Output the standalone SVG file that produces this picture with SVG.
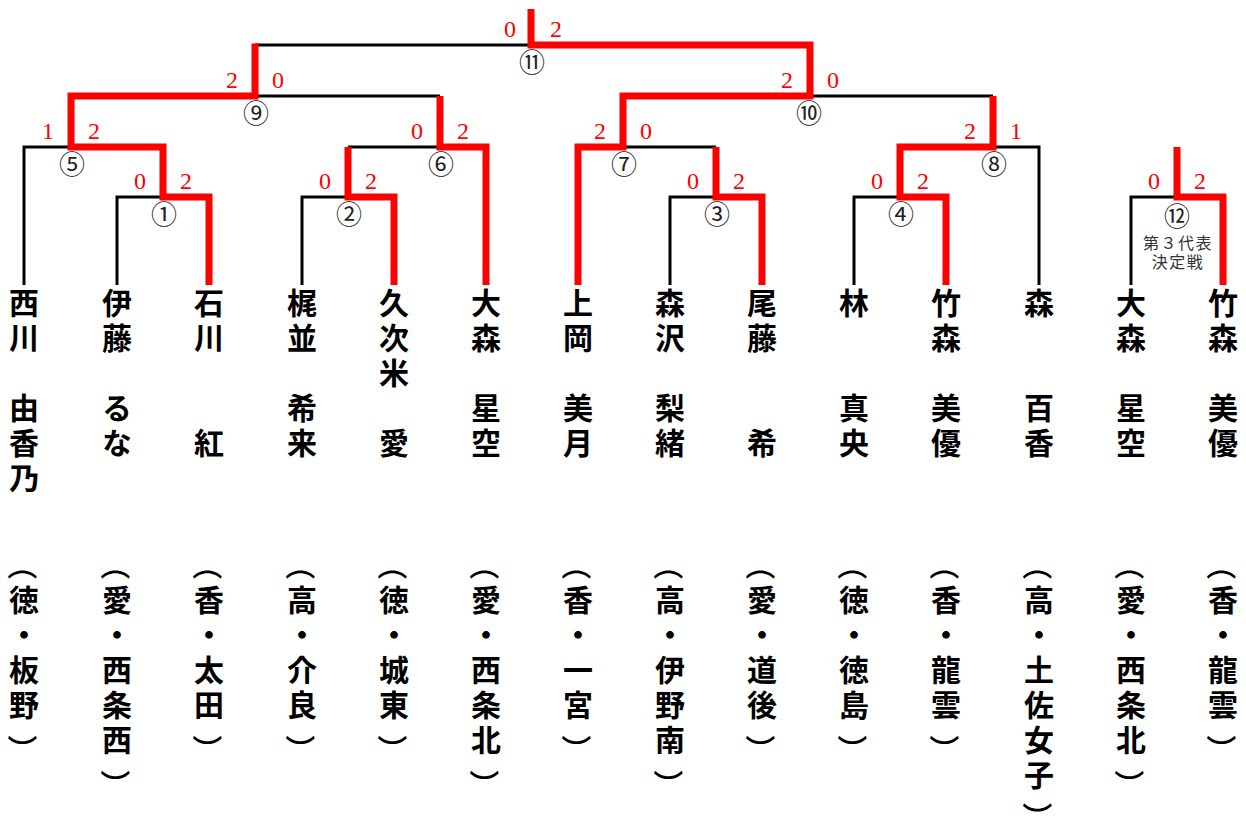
<svg xmlns="http://www.w3.org/2000/svg" width="1246" height="816" viewBox="0 0 1246 816">
<style>
.bk{fill:none;stroke:#000;stroke-width:3}
.rd{fill:none;stroke:#f00;stroke-width:7;stroke-linejoin:miter}
.sc{font-family:"Liberation Serif",serif;font-size:24px;fill:#f00;text-anchor:middle}
.mn{font-family:"Noto Sans CJK JP",sans-serif;font-size:26px;fill:#222;text-anchor:middle;dominant-baseline:central}
.lb{font-family:"Noto Sans CJK JP",sans-serif;font-size:16px;fill:#333;text-anchor:middle;letter-spacing:1.5px}
.nm{font-family:"Noto Sans CJK JP",sans-serif;font-weight:bold;font-size:30px;fill:#000;writing-mode:vertical-rl;letter-spacing:5px}
.pr{font-family:"Noto Sans CJK JP",sans-serif;font-weight:500;font-size:30px;fill:#000;text-anchor:middle;dominant-baseline:central}
</style>
<rect width="1246" height="816" fill="#fff"/>
<g id="connectors">
<path class="bk" d="M117,285V197H163"/>
<path class="bk" d="M302,285V197H348"/>
<path class="bk" d="M670,285V197H716"/>
<path class="bk" d="M854,285V197H900"/>
<path class="bk" d="M1131,285V197H1177"/>
<path class="bk" d="M24,285V147H71"/>
<path class="bk" d="M348,147H440"/>
<path class="bk" d="M623,147H716"/>
<path class="bk" d="M1039,285V147H993"/>
<path class="bk" d="M255,96H440"/>
<path class="bk" d="M810,96H993"/>
<path class="bk" d="M255,45H531"/>
<path class="rd" d="M209,285V197H163V147H71V96H255V43.5"/>
<path class="rd" d="M394,285V197H348V147"/>
<path class="rd" d="M486,285V147H440V96"/>
<path class="rd" d="M578,285V147H623V96H810V45H531V9"/>
<path class="rd" d="M762,285V197H716V147"/>
<path class="rd" d="M946,285V197H900V147H993V96"/>
<path class="rd" d="M1223,285V197H1177V147"/>
</g>
<g id="match-1"><text class="mn" x="164" y="212">①</text><text class="sc" x="140" y="189">0</text><text class="sc" x="186" y="189">2</text></g>
<g id="match-2"><text class="mn" x="349" y="212">②</text><text class="sc" x="325" y="189">0</text><text class="sc" x="371" y="189">2</text></g>
<g id="match-3"><text class="mn" x="717" y="212">③</text><text class="sc" x="693" y="189">0</text><text class="sc" x="739" y="189">2</text></g>
<g id="match-4"><text class="mn" x="901" y="212">④</text><text class="sc" x="877" y="189">0</text><text class="sc" x="923" y="189">2</text></g>
<g id="match-5"><text class="mn" x="72" y="162">⑤</text><text class="sc" x="48" y="139">1</text><text class="sc" x="94" y="139">2</text></g>
<g id="match-6"><text class="mn" x="441" y="162">⑥</text><text class="sc" x="417" y="139">0</text><text class="sc" x="463" y="139">2</text></g>
<g id="match-7"><text class="mn" x="624" y="162">⑦</text><text class="sc" x="600" y="139">2</text><text class="sc" x="646" y="139">0</text></g>
<g id="match-8"><text class="mn" x="994" y="162">⑧</text><text class="sc" x="970" y="139">2</text><text class="sc" x="1016" y="139">1</text></g>
<g id="match-9"><text class="mn" x="256" y="111">⑨</text><text class="sc" x="232" y="88">2</text><text class="sc" x="278" y="88">0</text></g>
<g id="match-10"><text class="mn" x="809" y="111">⑩</text><text class="sc" x="787" y="88">2</text><text class="sc" x="833" y="88">0</text></g>
<g id="match-11"><text class="mn" x="532" y="60">⑪</text><text class="sc" x="510" y="37">0</text><text class="sc" x="556" y="37">2</text></g>
<g id="match-12"><text class="mn" x="1177" y="214">⑫</text><text class="sc" x="1154" y="189">0</text><text class="sc" x="1200" y="189">2</text><text class="lb" x="1178" y="249">第３代表</text><text class="lb" x="1178" y="268">決定戦</text></g>
<g id="player-1"><text class="nm" x="24" y="288">西川</text><text class="nm" x="24" y="393">由香乃</text><text class="pr" x="24" y="565" transform="rotate(90 24 565)">（</text><text class="nm" x="24" y="584.5">徳・板野</text><text class="pr" x="24" y="749.5" transform="rotate(90 24 749.5)">）</text></g>
<g id="player-2"><text class="nm" x="117" y="288">伊藤</text><text class="nm" x="117" y="393">るな</text><text class="pr" x="117" y="565" transform="rotate(90 117 565)">（</text><text class="nm" x="117" y="584.5">愛・西条西</text><text class="pr" x="117" y="784.5" transform="rotate(90 117 784.5)">）</text></g>
<g id="player-3"><text class="nm" x="209" y="288">石川</text><text class="nm" x="209" y="428">紅</text><text class="pr" x="209" y="565" transform="rotate(90 209 565)">（</text><text class="nm" x="209" y="584.5">香・太田</text><text class="pr" x="209" y="749.5" transform="rotate(90 209 749.5)">）</text></g>
<g id="player-4"><text class="nm" x="302" y="288">梶並</text><text class="nm" x="302" y="393">希来</text><text class="pr" x="302" y="565" transform="rotate(90 302 565)">（</text><text class="nm" x="302" y="584.5">高・介良</text><text class="pr" x="302" y="749.5" transform="rotate(90 302 749.5)">）</text></g>
<g id="player-5"><text class="nm" x="394" y="288">久次米</text><text class="nm" x="394" y="428">愛</text><text class="pr" x="394" y="565" transform="rotate(90 394 565)">（</text><text class="nm" x="394" y="584.5">徳・城東</text><text class="pr" x="394" y="749.5" transform="rotate(90 394 749.5)">）</text></g>
<g id="player-6"><text class="nm" x="486" y="288">大森</text><text class="nm" x="486" y="393">星空</text><text class="pr" x="486" y="565" transform="rotate(90 486 565)">（</text><text class="nm" x="486" y="584.5">愛・西条北</text><text class="pr" x="486" y="784.5" transform="rotate(90 486 784.5)">）</text></g>
<g id="player-7"><text class="nm" x="578" y="288">上岡</text><text class="nm" x="578" y="393">美月</text><text class="pr" x="578" y="565" transform="rotate(90 578 565)">（</text><text class="nm" x="578" y="584.5">香・一宮</text><text class="pr" x="578" y="749.5" transform="rotate(90 578 749.5)">）</text></g>
<g id="player-8"><text class="nm" x="670" y="288">森沢</text><text class="nm" x="670" y="393">梨緒</text><text class="pr" x="670" y="565" transform="rotate(90 670 565)">（</text><text class="nm" x="670" y="584.5">高・伊野南</text><text class="pr" x="670" y="784.5" transform="rotate(90 670 784.5)">）</text></g>
<g id="player-9"><text class="nm" x="762" y="288">尾藤</text><text class="nm" x="762" y="428">希</text><text class="pr" x="762" y="565" transform="rotate(90 762 565)">（</text><text class="nm" x="762" y="584.5">愛・道後</text><text class="pr" x="762" y="749.5" transform="rotate(90 762 749.5)">）</text></g>
<g id="player-10"><text class="nm" x="854" y="288">林</text><text class="nm" x="854" y="393">真央</text><text class="pr" x="854" y="565" transform="rotate(90 854 565)">（</text><text class="nm" x="854" y="584.5">徳・徳島</text><text class="pr" x="854" y="749.5" transform="rotate(90 854 749.5)">）</text></g>
<g id="player-11"><text class="nm" x="946" y="288">竹森</text><text class="nm" x="946" y="393">美優</text><text class="pr" x="946" y="565" transform="rotate(90 946 565)">（</text><text class="nm" x="946" y="584.5">香・龍雲</text><text class="pr" x="946" y="749.5" transform="rotate(90 946 749.5)">）</text></g>
<g id="player-12"><text class="nm" x="1039" y="288">森</text><text class="nm" x="1039" y="393">百香</text><text class="pr" x="1039" y="565" transform="rotate(90 1039 565)">（</text><text class="nm" x="1039" y="584.5">高・土佐女子</text><text class="pr" x="1039" y="817" transform="rotate(90 1039 817)">）</text></g>
<g id="player-13"><text class="nm" x="1131" y="288">大森</text><text class="nm" x="1131" y="393">星空</text><text class="pr" x="1131" y="565" transform="rotate(90 1131 565)">（</text><text class="nm" x="1131" y="584.5">愛・西条北</text><text class="pr" x="1131" y="784.5" transform="rotate(90 1131 784.5)">）</text></g>
<g id="player-14"><text class="nm" x="1223" y="288">竹森</text><text class="nm" x="1223" y="393">美優</text><text class="pr" x="1223" y="565" transform="rotate(90 1223 565)">（</text><text class="nm" x="1223" y="584.5">香・龍雲</text><text class="pr" x="1223" y="749.5" transform="rotate(90 1223 749.5)">）</text></g>
</svg>
